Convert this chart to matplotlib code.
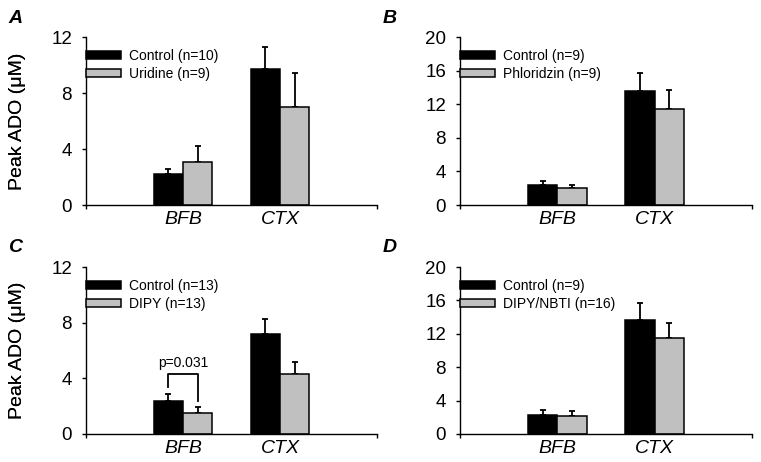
import matplotlib
matplotlib.use('Agg')
import matplotlib.pyplot as plt

plt.rcParams['font.family'] = ['Liberation Sans', 'DejaVu Sans']

# data
regions = ['BFB', 'CTX']
panel_letters = ['A', 'B', 'C', 'D']
ymax = [12, 20, 12, 20]
yticks = [[0, 4, 8, 12], [0, 4, 8, 12, 16, 20], [0, 4, 8, 12], [0, 4, 8, 12, 16, 20]]
control_labels = ['Control (n=10)', 'Control (n=9)', 'Control (n=13)', 'Control (n=9)']
treat_labels = ['Uridine (n=9)', 'Phloridzin (n=9)', 'DIPY (n=13)', 'DIPY/NBTI (n=16)']
control_mean = [[2.2, 9.7], [2.4, 13.6], [2.4, 7.2], [2.3, 13.6]]
control_sem = [[0.35, 1.6], [0.5, 2.1], [0.5, 1.05], [0.55, 2.1]]
treat_mean = [[3.1, 7.0], [2.05, 11.4], [1.5, 4.3], [2.15, 11.5]]
treat_sem = [[1.15, 2.45], [0.3, 2.35], [0.45, 0.85], [0.6, 1.85]]

# axes boxes in pixels: left, top, right, bottom
W, H = 761, 462
boxes = [(86, 37, 377, 205), (460, 37, 752, 205), (86, 267, 377, 434), (460, 267, 752, 434)]
letter_pos = [(8, 23), (383, 23), (8, 252), (383, 252)]

fig = plt.figure(figsize=(W / 100, H / 100), dpi=100)

x = [1, 2]
bw = 0.30
for i in range(4):
    l, t, r, b = boxes[i]
    ax = fig.add_axes([l / W, 1 - b / H, (r - l) / W, (b - t) / H])
    xc = [v - bw / 2 for v in x]
    xt = [v + bw / 2 for v in x]
    ax.bar(xc, control_mean[i], bw, color='black', edgecolor='black', linewidth=1.1,
           label=control_labels[i], zorder=2)
    ax.bar(xt, treat_mean[i], bw, color='#c0c0c0', edgecolor='black', linewidth=1.1,
           label=treat_labels[i], zorder=2)
    ax.errorbar(xc, control_mean[i], yerr=[[0, 0], control_sem[i]], fmt='none',
                ecolor='black', elinewidth=1.3, capsize=2.5, capthick=1.3, zorder=1)
    ax.errorbar(xt, treat_mean[i], yerr=[[0, 0], treat_sem[i]], fmt='none',
                ecolor='black', elinewidth=1.3, capsize=2.5, capthick=1.3, zorder=1)

    ax.set_xlim(0, 3)
    ax.set_ylim(0, ymax[i])
    ax.set_yticks(yticks[i])
    ax.tick_params(axis='y', direction='out', length=3, width=1, labelsize=13.5, pad=7)
    ax.set_xticks(x)
    ax.set_xticklabels(regions, fontsize=14, style='italic')
    ax.tick_params(axis='x', length=0, pad=4)
    ax.set_xticks([0, 3], minor=True)
    ax.tick_params(axis='x', which='minor', direction='out', length=3, width=1)
    for s in ['top', 'right']:
        ax.spines[s].set_visible(False)
    for s in ['left', 'bottom']:
        ax.spines[s].set_linewidth(1.0)
    ax.set_ylabel('Peak ADO (\u03bcM)', fontsize=14, labelpad=6)
    ax.yaxis.set_label_coords(-(l - 26) / (r - l), 0.5)

    ax.legend(loc='upper left', bbox_to_anchor=(0.0, 0.93), frameon=False, fontsize=10,
              handlelength=2.5, handleheight=0.5, handletextpad=0.6, labelspacing=0.3,
              borderpad=0, borderaxespad=0)

    fig.text(letter_pos[i][0] / W, 1 - letter_pos[i][1] / H, panel_letters[i],
             fontsize=14, fontweight='bold', style='italic', ha='left', va='baseline')

    # significance bracket in panel C
    if i == 2:
        ax.plot([xc[0], xc[0], xt[0], xt[0]], [3.4, 4.3, 4.3, 2.35], color='black',
                linewidth=1.3, zorder=3)
        ax.text(x[0], 4.6, 'p=0.031', ha='center', va='bottom', fontsize=10)

plt.savefig('out.png', dpi=100)
